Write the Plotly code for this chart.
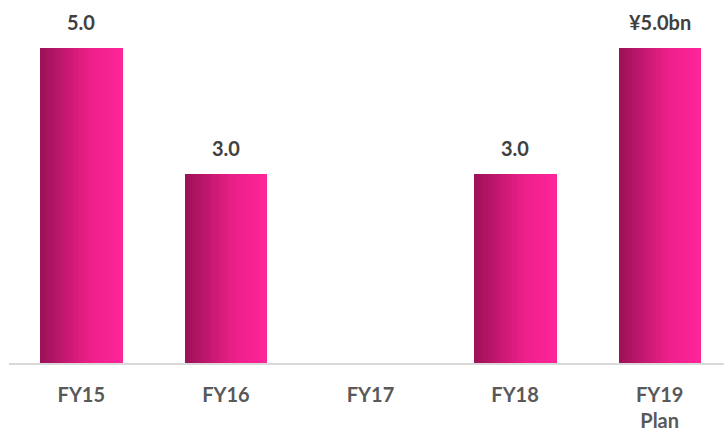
import plotly.graph_objects as go
import numpy as np

categories = ["FY15", "FY16", "FY17", "FY18", "FY19<br>Plan"]
values = [5.0, 3.0, 0.0, 3.0, 5.0]
labels = ["5.0", "3.0", "", "3.0", "¥5.0bn"]

BAR_W = 0.567
N_SLICES = 24
c0 = np.array([0x9C, 0x10, 0x57])
c_mid = np.array([0xEC, 0x1F, 0x89])
c1 = np.array([0xFF, 0x25, 0x99])

def col(t):
    if t < 0.6:
        c = c0 + (c_mid - c0) * (t / 0.6)
    else:
        c = c_mid + (c1 - c_mid) * ((t - 0.6) / 0.4)
    return "rgb(%d,%d,%d)" % tuple(int(round(v)) for v in c)

fig = go.Figure()
x_idx = list(range(len(categories)))
sw = BAR_W / N_SLICES
for k in range(N_SLICES):
    t = (k + 0.5) / N_SLICES
    fig.add_trace(go.Bar(
        x=x_idx, y=values, width=sw * 1.15,
        offset=-BAR_W / 2 + k * sw,
        marker=dict(color=col(t), line=dict(width=0)),
        showlegend=False, hoverinfo="skip",
    ))

for i, (v, lab) in enumerate(zip(values, labels)):
    if lab:
        fig.add_annotation(x=i, y=v, text="<b>%s</b>" % lab, showarrow=False,
                           yanchor="bottom", yshift=12,
                           font=dict(family="Lato", size=20, color="#404040"))

fig.update_layout(
    width=724, height=431,
    margin=dict(l=9, r=0, t=0, b=68),
    paper_bgcolor="white", plot_bgcolor="white",
    barmode="overlay", bargap=0,
    font=dict(family="Lato"),
    xaxis=dict(
        range=[-0.5, 4.445], tickmode="array", tickvals=x_idx,
        ticktext=["<b>%s</b>" % c for c in categories],
        showline=True, linecolor="#D9D9D9", linewidth=2,
        showgrid=False, zeroline=False, ticks="",
        tickfont=dict(family="Lato", size=20, color="#595959"),
        ticklabelstandoff=13,
    ),
    yaxis=dict(range=[0, 363 / 63], visible=False, showgrid=False, zeroline=False),
)

fig.write_html("out.html")
